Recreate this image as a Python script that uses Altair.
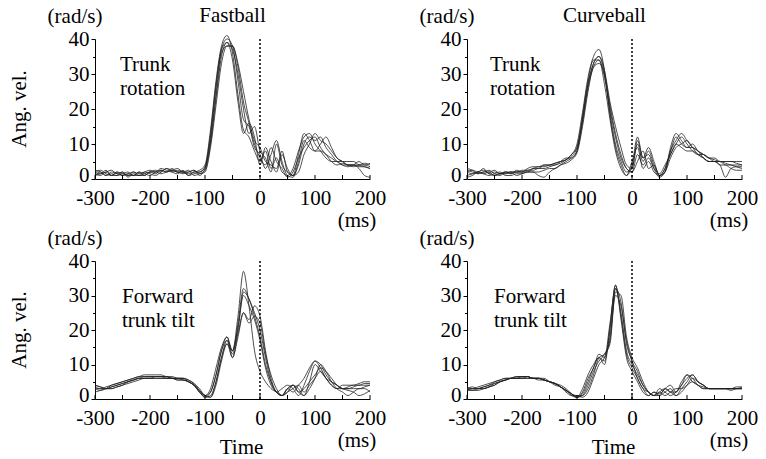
import altair as alt
import pandas as pd

# ---------------- data ----------------
TIME = list(range(-300, 201, 10))
X_LABELS = [-300, -200, -100, 0, 100, 200]
X_TICKS = list(range(-300, 201, 50))
Y_TICKS = list(range(0, 41, 5))
ZERO = [0]

# Fastball - trunk rotation
FB_ROT = [
    [2,1.5,2.5,1,2,1.5,1,2,1.5,2, 2.5,2,3,2.5,2,2.5,2,1.5,2,2.5, 4,14,28,38,41,36,24,14,12,8, 5,8,3,6,2,1,3,8,12,13, 10,8,6,5,5,4,4,4,4,4, 3.5],
    [1,2,1,1.5,1,2,0.5,1.5,1,1, 2,2.5,2,3,2,1.5,2.5,1,1.5,2, 3,12,26,37,40,38,28,17,15,10, 6,4,9,5,3,0.5,2,6,9,11, 12,9,7,5,4,4.5,4,3.5,4,4.5, 4],
    [2.5,2,1,2,1.5,1,1.5,1,2,1.5, 1,2,2.5,2,2.5,2,2,2.5,1,1.5, 2.5,10,23,35,39,37,30,20,13,15, 8,6,2,10,4,2,1,4,10,12, 11,12,9,7,5,4,3.5,4,5,4, 4.5],
    [1.5,1,2,1,1,1.5,2,1,1,2, 1.5,1,2,3,2.5,2,1.5,2,2.5,1, 3,11,24,36,38,38,32,22,16,9, 7,3,7,11,5,1,0.5,5,11,9, 8,10,12,9,6,5,4,4,3.5,3.5, 3],
    [2,2.5,1.5,1,2,1,1.5,2,1,1.5, 2,1.5,2.5,2,3,2,2,1,2,2, 3.5,13,27,37,39,34,22,13,16,12, 4,9,5,2,7,3,1,7,13,11, 8,8,7,6,5,5,5,5,4,3.5, 3],
    [1,1.5,2,2.5,1.5,2,1,1,2,1, 2,2,1.5,2,2.5,3,2,2,2.5,1.5, 2,9,21,33,38,38,33,25,17,11, 9,5,4,3,8,2,1,2,7,10, 13,11,10,8,6,5,4,4,3,1, 0.5],
]

# Curveball - trunk rotation
CB_ROT = [
    [2,2.5,2,3,1.5,2,1.5,1.5,2,2, 2.5,2.5,3,3.5,3.5,4,4.5,5,5.5,6.5, 9,17,27,33,35,30,19,10,5,2, 3,10,5,8,4,1,3,8,12,10, 9,10,8,7,6,6,5,5,5,4.5, 4],
    [1,1.5,2,1.5,2,1,1.5,2,1.5,2, 2,2.5,2.5,3,3,3.5,4,4.5,5.5,7, 10,19,29,35,37,31,18,9,4,1, 4,12,6,7,3,0.5,2,9,13,11, 9,9,8,7,6,5,5,4.5,4,3.5, 3],
    [3,2.5,1.5,2,2.5,1.5,1,2,1.5,2.5, 2,2,3,3,4,4,4,5,6,6, 8,16,26,32,34,29,20,12,6,3, 2,7,4,6,3,1.5,4,7,10,12, 10,8,7,7,6,5.5,5,5,5,5, 5],
    [0.5,1,2,1.5,1,1.5,2,1,1,1.5, 1.5,2,2,2,2.5,3,3,4,5,6, 8,18,28,34,34,27,17,8,3,1, 5,9,3,5,2,1,2,6,9,10, 11,9,8,6,5,5,4,4,3,2.5, 2.5],
    [2,1.5,2,2.5,1.5,1,1.5,2,2,1, 1.5,2,2,1,0.5,2,3,4,4.5,5.5, 7.5,15,25,32,33,30,21,13,7,3, 2,5,8,3,4,1,3,7,10,9, 8,8,7,6,5,5,4,0.5,3,3.5, 3.5],
    [2.5,2,1.5,2,2,2.5,1.5,1.5,2,2, 2,3,3.5,3.5,4,4,4.5,5,5.5,7, 9,17,27,33,35,31,22,15,9,4, 3,11,6,9,5,1,2,8,11,13, 11,9,7,6,5,5,5,4,4,4, 4],
]

# Fastball - forward trunk tilt
FB_TILT = [
    [3,2.5,3,4,4.5,5,5.5,6,6.5,6.5, 6.5,6.5,6.5,6,6,6,5.5,5,4,2, 0.5,2,7,14,17,14,24,37,27,14, 8,5,3,2,1,3,4,2,1,3, 6,10,8,5,3,2,1,2,3,3, 2],
    [4,3.5,3,3.5,4,4.5,5,5.5,6,6.5, 6.5,6.5,6.5,6.5,6,6,6,5.5,4.5,2.5, 1,3,9,15,18,13,22,32,29,25, 20,12,5,2,1,2,4,3,1,5, 10,8,6,4,3,4,4,4,4.5,5, 5],
    [2,2.5,3,3,3.5,4,5,5.5,6,6, 6,6.5,6.5,6.5,6,6,6,5,4,2, 0.5,1,5,12,17,12,18,25,23,27, 24,14,6,2,1,3,2,4,6,9, 11,10,7,5,4,3,2.5,2,1,1.5, 2.5],
    [3,3,3.5,4,4.5,5,5.5,6,6.5,7, 7,7,7,6.5,6.5,6,6,5.5,4.5,3, 1,0.5,4,11,16,14,20,31,29,24, 18,10,5,2,3,4,3,1,4,8, 11,9,6,4,3,3,3.5,4,4,4.5, 4.5],
    [3.5,3,3,3.5,4,4.5,5,5.5,6,6, 6,6,6,6,6,5.5,5.5,5,4,2, 1,0.5,5,12,16,12,19,25,22,24, 22,13,7,3,1,2,3,4,2,4, 6,8,6,5,4,3,3,3.5,4,4, 4],
    [4,3.5,3,3,3.5,4,4.5,5,5.5,6, 6,6,6,6,6,5.5,5.5,5,4,2.5, 1,2,7,14,18,14,21,30,27,23, 17,9,4,2,1,3,4,2,3,5, 7,9,8,6,4,3,3,3,3,3.5, 4],
]

# Curveball - forward trunk tilt
CB_TILT = [
    [3,3,3.5,4,4.5,5,5.5,6,6,6.5, 6.5,6.5,6,6,5.5,5,4.5,3.5,2.5,1.5, 0.5,3,7,10,12,11,20,33,24,13, 9,6,3,2,1,2,3,2,1,3, 5,7,5,4,3,3,3,3,3,3, 3.5],
    [2.5,2.5,3,3.5,4,5,5.5,6,6,6, 6.5,6.5,6,6,5.5,5,4.5,4,3,1.5, 0.5,2,6,9,13,12,22,32,25,14, 10,7,4,2,1,3,2,1,2,4, 7,6,4,3,3,3,3,3,3,3, 3],
    [3.5,3,3,3,3.5,4,5,5.5,6,6, 6,6,6,6,5.5,5,4.5,3.5,2.5,1, 0.5,1,4,8,11,13,17,32,28,16, 11,6,3,1,2,1.5,3,4,2,5, 7,5,4,3,3,3,3,3,3,3.5, 3.5],
    [3,3.5,3,3,3.5,4.5,5,5.5,6,6.5, 6.5,6.5,6,6,6,5,4,3.5,2,1, 1,0.5,2,6,10,12,18,30,27,17, 11,8,4,2,1,1,2,3,1,2, 4,6,5,4,3,3,3,3,2.5,3, 3],
    [3,2.5,2.5,3,3.5,4,5,5.5,6,6, 6,6,6,5.5,5.5,5,4.5,3.5,2.5,1.5, 0.5,1.5,5,9,12,10,21,33,23,12, 8,5,2,1,2,1,3,2,2,4, 6,7,5,4,3,3,3,3,3,3, 3],
    [2.5,3,3,3.5,4,4.5,5,5.5,6,6, 6,6.5,6,6,5.5,5,4.5,3.5,2.5,1.5, 1,1,3,7,12,13,16,31,30,18, 12,9,5,2,1,2,1,2,3,3, 4,5,4,3.5,3,3,3,3,3,3, 3],
]

TITLES = ["Fastball", "Curveball"]
LABELS = ["Trunk\nrotation", "Forward\ntrunk tilt"]
Y_UNIT = "(rad/s)"
Y_TITLE = "Ang. vel."
X_UNIT = "(ms)"
X_TITLE = "Time"

# ---------------- style ----------------
FONT = "Liberation Serif"
FS = 21
W = 275
H_TOP = 140
H_BOT = 138


def long_df(traces):
    rows = []
    for k, tr in enumerate(traces):
        assert len(tr) == len(TIME), (k, len(tr))
        for t, v in zip(TIME, tr):
            rows.append({"t": t, "v": v, "trial": k})
    return pd.DataFrame(rows)


def txt(s, x, y, **kw):
    return alt.Chart(pd.DataFrame({"s": [s]})).mark_text(
        font=FONT, fontSize=FS, color="black", **kw
    ).encode(x=alt.value(x), y=alt.value(y), text="s:N")


def panel(traces, H, title, label, label_dx, label_dy, left_col, bottom_row):
    x_scale = alt.Scale(domain=[-300, 200], nice=False, zero=False)
    y_scale = alt.Scale(domain=[0, 40], nice=False)
    x_axis = alt.Axis(
        values=X_LABELS, ticks=False, labelFont=FONT, labelFontSize=FS,
        labelExpr="'' + datum.value",
        labelColor="black", domainColor="black", domainWidth=1,
        labelPadding=8, title=None, grid=False, labelFlush=False,
        labelOverlap=False,
    )
    y_axis = alt.Axis(
        values=Y_TICKS,
        labelExpr="datum.value % 10 === 0 ? '' + datum.value : ''",
        labelOffset={"condition": {"test": "datum.value === 0", "value": -4}, "value": 0},
        tickSize={"condition": {"test": "datum.value % 10 === 0", "value": 4}, "value": 2.5},
        tickColor="black", domainColor="black", domainWidth=1,
        labelFont=FONT, labelFontSize=FS, labelColor="black",
        labelPadding=2, title=None, grid=False, labelOverlap=False,
    )
    lines = alt.Chart(long_df(traces)).mark_line(
        color="#222222", strokeWidth=0.8, interpolate="monotone"
    ).encode(
        x=alt.X("t:Q", scale=x_scale, axis=x_axis),
        y=alt.Y("v:Q", scale=y_scale, axis=y_axis),
        detail="trial:N",
    )
    xticks = alt.Chart(pd.DataFrame({"t": X_TICKS})).mark_rule(
        color="black", strokeWidth=1
    ).encode(x=alt.X("t:Q", scale=x_scale), y=alt.value(H), y2=alt.value(H - 4))
    zero = alt.Chart(pd.DataFrame({"t": ZERO})).mark_rule(
        color="black", strokeWidth=1.5, strokeDash=[2, 2]
    ).encode(x=alt.X("t:Q", scale=x_scale), y=alt.value(0), y2=alt.value(H))

    layers = [lines, xticks, zero]
    layers.append(txt(Y_UNIT, -20, -22, align="center", baseline="middle"))
    layers.append(txt(X_UNIT, W - 13, H + 42, align="center", baseline="middle"))
    layers.append(txt(label, label_dx, label_dy, align="left",
                      baseline="alphabetic", lineBreak="\n", lineHeight=24))
    if title:
        layers.append(txt(title, W / 2, -23, align="center", baseline="middle"))
    if left_col:
        layers.append(txt(Y_TITLE, -75, H / 2, align="center",
                          baseline="middle", angle=270))
    if bottom_row:
        layers.append(txt(X_TITLE, W / 2 + 9, H + 49, align="center",
                          baseline="middle"))
    return alt.layer(*layers).properties(width=W, height=H)


p1 = panel(FB_ROT, H_TOP, TITLES[0], LABELS[0], 25, 32, True, False)
p2 = panel(CB_ROT, H_TOP, TITLES[1], LABELS[0], 23, 32, False, False)
p3 = panel(FB_TILT, H_BOT, None, LABELS[1], 27, 42, True, True)
p4 = panel(CB_TILT, H_BOT, None, LABELS[1], 27, 42, False, True)

chart = alt.concat(
    p1, p2, p3, p4, columns=2,
    spacing=alt.RowColnumber(row=82, column=97), bounds="flush",
).properties(
    padding={"left": 9, "top": 5, "right": 0, "bottom": 0}
).configure_view(stroke=None)

chart.save("out.html", embed_options={"renderer": "svg", "actions": False})
